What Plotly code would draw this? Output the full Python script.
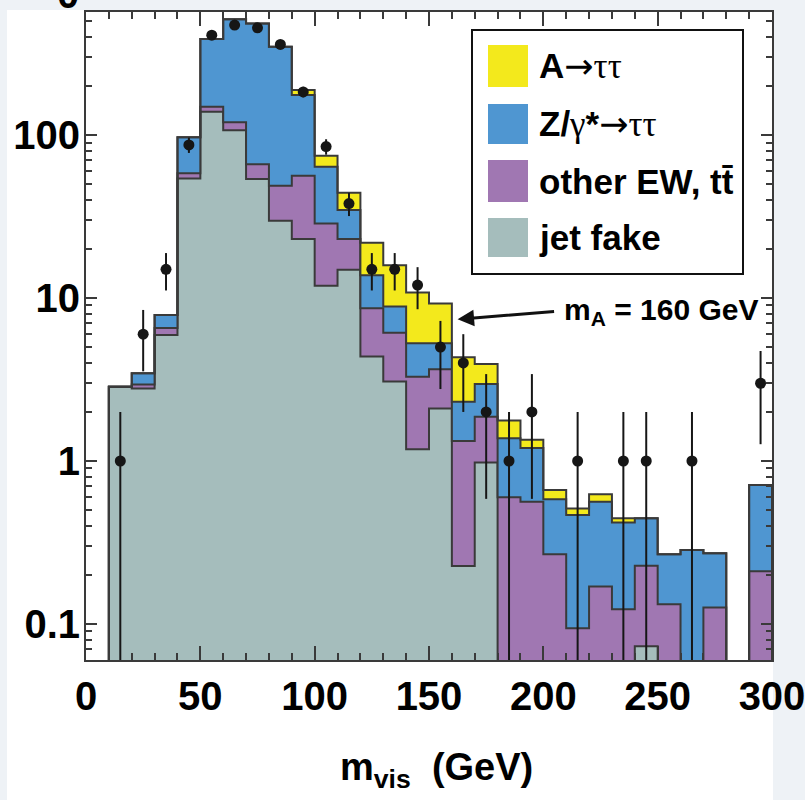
import math
import plotly.graph_objects as go

# ---------------- data ----------------
bin_edges = list(range(10, 310, 10))          # 10 ... 300 GeV
bin_centers = [e + 5 for e in range(10, 300, 10)]

jet_fake = [2.86, 2.79, 5.93, 54.2, 139, 107, 53.7, 29.8, 23.0, 11.9, 14.9, 4.37, 3.07, 1.18,
            2.10, 0.227, 0.98, 0, 0, 0, 0, 0, 0, 0.073, 0, 0, 0, 0, 0]
other_ew = [0, 0.16, 0.62, 4.0, 10, 13, 12.4, 19.1, 33.2, 16.8, 8.1, 4.28, 3.05, 2.11,
            1.55, 1.10, 0.89, 0.60, 0.562, 0.268, 0.094, 0.170, 0.123, 0.155, 0.132, 0, 0.126, 0, 0.211]
z_tautau = [0, 0.50, 1.32, 38.6, 239, 393, 418, 299, 120, 35.2, 11.7, 5.15, 2.74, 1.98,
            1.62, 0.98, 1.10, 0.78, 0.64, 0.314, 0.373, 0.392, 0.296, 0.217, 0.136, 0.284, 0.146, 0, 0.502]
a_tautau = [0, 0, 0, 0, 0, 0, 0, 0, 13, 10.7, 9.6, 8.0, 7.04, 5.53,
            4.0, 2.02, 0.97, 0.39, 0.15, 0.082, 0.044, 0.063, 0.026, 0, 0, 0, 0, 0, 0]
data_counts = [1, 6, 15, 87, 410, 473, 455, 360, 184, 85, 38, 15, 15, 12,
               5, 4, 2, 1, 2, 0, 1, 0, 1, 1, 0, 1, 0, 0, 3]

legend_labels = ["A\u2192\u03c4\u03c4", "Z/\u03b3*\u2192\u03c4\u03c4", "other EW, tt\u0304", "jet fake"]
y_tick_vals = [0.1, 1, 10, 100]
y_tick_text = ["0.1", "1", "10", "100"]
x_tick_vals = [0, 50, 100, 150, 200, 250, 300]

# ---------------- style ----------------
C_YEL = "#f3e91c"
C_BLU = "#4f96d1"
C_PUR = "#a077b2"
C_GRY = "#a5bdbc"
C_LINE = "#3a3a3a"
C_BG = "#eef2f6"
FONT = "Liberation Sans, Arial, Helvetica, sans-serif"
FLOOR = 1e-3

W, H = 805, 800
ML, MR, MT, MB = 86, 33, 12, 140
PW, PH = W - ML - MR, H - MT - MB


def px2x(px):
    return (px - ML) / PW


def py2y(py):
    return (H - MB - py) / PH


def cum(*series):
    return [sum(vals) for vals in zip(*series)]


c_gray = cum(jet_fake)
c_pur = cum(jet_fake, other_ew)
c_blu = cum(jet_fake, other_ew, z_tautau)
c_yel = cum(jet_fake, other_ew, z_tautau, a_tautau)


def step_xy(vals):
    v = [x if x > 0 else FLOOR for x in vals]
    xs = [bin_edges[0]] + bin_edges + [bin_edges[-1]]
    ys = [FLOOR] + v + [v[-1]] + [FLOOR]
    return xs, ys


fig = go.Figure()

xs0, _ = step_xy(c_gray)
fig.add_trace(go.Scatter(x=xs0, y=[FLOOR] * len(xs0), mode="lines", line=dict(width=0),
                         line_shape="hv", hoverinfo="skip", showlegend=False))

for vals, col in [(c_gray, C_GRY), (c_pur, C_PUR), (c_blu, C_BLU), (c_yel, C_YEL)]:
    xs, ys = step_xy(vals)
    fig.add_trace(go.Scatter(x=xs, y=ys, mode="lines", line_shape="hv",
                             line=dict(color=C_LINE, width=2),
                             fill="tonexty", fillcolor=col, showlegend=False))

# data points
dx, dy, eu, ed = [], [], [], []
for c, n in zip(bin_centers, data_counts):
    if n > 0:
        dx.append(c)
        dy.append(n)
        e = math.sqrt(n)
        eu.append(e)
        ed.append(min(e, n - FLOOR))
fig.add_trace(go.Scatter(x=dx, y=dy, mode="markers",
                         marker=dict(color="#161616", size=11),
                         error_y=dict(type="data", array=eu, arrayminus=ed, symmetric=False,
                                      color="#161616", thickness=2, width=0),
                         showlegend=False))

# ---------------- layout ----------------
tickfont = dict(family=FONT, size=40, color="#000000", weight="bold")
minor_y = []
for d in [0.01, 0.1, 1, 10, 100]:
    for k in range(2, 10):
        minor_y.append(k * d)

fig.update_layout(
    width=W, height=H,
    margin=dict(l=ML, r=MR, t=MT, b=MB, autoexpand=False),
    paper_bgcolor=C_BG,
    plot_bgcolor="#ffffff",
    showlegend=False,
    xaxis=dict(range=[0, 300], tickvals=x_tick_vals, ticks="inside", ticklen=14, tickwidth=2,
               tickcolor=C_LINE, showline=True, linecolor=C_LINE, linewidth=2, mirror="ticks",
               showgrid=False, zeroline=False, tickfont=tickfont, automargin=False,
               ticklabeloverflow="allow",
               minor=dict(dtick=10, ticks="inside", ticklen=7, tickwidth=2, tickcolor=C_LINE)),
    yaxis=dict(type="log", range=[-1.221, 2.755], tickvals=y_tick_vals, ticktext=y_tick_text,
               ticks="inside", ticklen=11, tickwidth=2, tickcolor=C_LINE, showline=True,
               linecolor=C_LINE, linewidth=2, mirror="ticks", showgrid=False, zeroline=False,
               tickfont=tickfont, automargin=False, ticklabeloverflow="allow",
               ticklabelstandoff=-4,
               minor=dict(tickvals=minor_y, ticks="inside", ticklen=6, tickwidth=2, tickcolor=C_LINE)),
)

shapes = []
# white panel
shapes.append(dict(type="rect", xref="paper", yref="paper", layer="below",
                   x0=px2x(7), x1=px2x(773), y0=py2y(800), y1=py2y(10),
                   fillcolor="#ffffff", line=dict(width=0)))
# legend box
shapes.append(dict(type="rect", xref="paper", yref="paper",
                   x0=px2x(472), x1=px2x(743), y0=py2y(274), y1=py2y(30),
                   fillcolor="#ffffff", line=dict(color="#111111", width=2)))
swatches = [(45, 87, C_YEL), (104, 144, C_BLU), (160, 202, C_PUR), (218, 257, C_GRY)]
for (t, b, col) in swatches:
    shapes.append(dict(type="rect", xref="paper", yref="paper",
                       x0=px2x(488), x1=px2x(528), y0=py2y(b), y1=py2y(t),
                       fillcolor=col, line=dict(width=0)))
fig.update_layout(shapes=shapes)


def styled(label):
    out = []
    for ch in label:
        if ch == "\u2192":
            out.append("<span style=\"font-family:'DejaVu Sans';font-weight:normal\">\u2192</span>")
        elif ch in "\u03c4\u03b3":
            out.append("<span style=\"font-family:'Liberation Serif';font-weight:normal\">%s</span>" % ch)
        else:
            out.append(ch)
    return "".join(out)


annotations = []
legfont = dict(family=FONT, size=35, color="#000000", weight="bold")
for (t, b, col), lab in zip(swatches, legend_labels):
    annotations.append(dict(xref="paper", yref="paper", x=px2x(537), y=py2y((t + b) / 2),
                            xanchor="left", yanchor="middle", text=styled(lab), showarrow=False,
                            font=legfont))
# m_A annotation
annotations.append(dict(xref="paper", yref="paper", x=px2x(562), y=py2y(312),
                        xanchor="left", yanchor="middle",
                        text="m<sub>A</sub> = 160 GeV", showarrow=False,
                        font=dict(family=FONT, size=30, color="#000000", weight="bold")))
annotations.append(dict(xref="x", yref="y", x=162.5, y=math.log10(7.4), text="",
                        showarrow=True, arrowhead=2, arrowsize=1.1, arrowwidth=3,
                        arrowcolor="#111111", ax=98, ay=-8, standoff=0))
# axis title
annotations.append(dict(xref="paper", yref="paper", x=px2x(437), y=py2y(770),
                        xanchor="center", yanchor="middle",
                        text="m<sub>vis</sub>  (GeV)", showarrow=False,
                        font=dict(family=FONT, size=38, color="#000000", weight="bold")))
# partially visible top label (only its lower edge shows above the frame)
annotations.append(dict(xref="paper", yref="paper", x=px2x(81), y=py2y(18),
                        xanchor="right", yanchor="bottom", text="0", showarrow=False,
                        font=tickfont))
fig.update_layout(annotations=annotations)

fig.write_html("out.html",
               config={"displayModeBar": False},
               post_script="document.body.style.margin='0px';"
                           "document.body.style.background='%s';" % C_BG)
